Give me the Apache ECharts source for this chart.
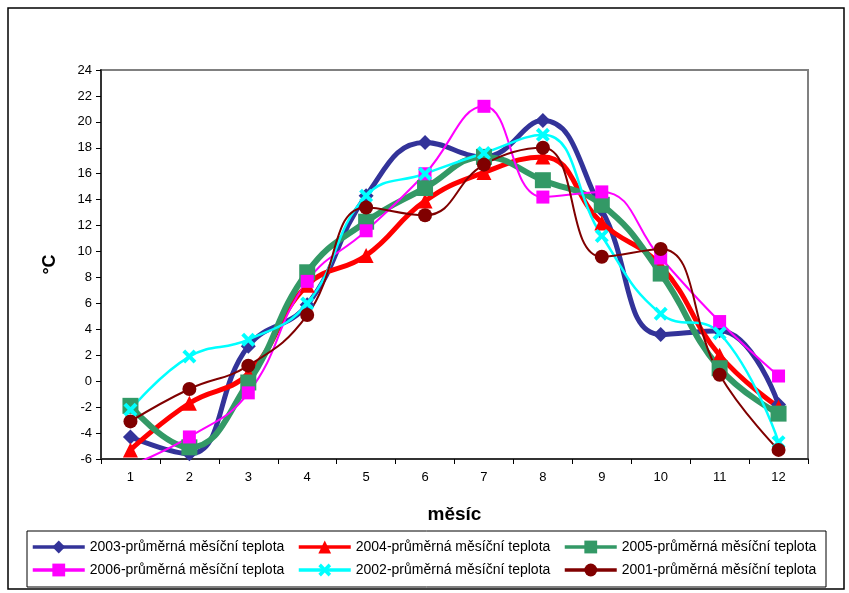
<!DOCTYPE html>
<html>
<head>
<meta charset="utf-8">
<script src="https://cdn.jsdelivr.net/npm/echarts@6/dist/echarts.min.js"></script>
<style>
  html, body { margin: 0; padding: 0; background: #fff; }
  #chart { width: 849px; height: 593px; }
</style>
</head>
<body>
<div id="chart"></div>
<script>
let chart = echarts.init(document.getElementById('chart'));

let months = ['1', '2', '3', '4', '5', '6', '7', '8', '9', '10', '11', '12'];
let t2003 = [-4.3, -5.6, 2.7, 5.9, 14.3, 18.4, 17.3, 20.1, 13.2, 3.6, 3.9, -1.8];
let t2004 = [-5.3, -1.7, 0.6, 7.4, 9.7, 13.9, 16.1, 17.3, 12.2, 8.9, 2.0, -2.0];
let t2005 = [-1.9, -5.1, -0.1, 8.4, 12.3, 14.9, 17.3, 15.5, 13.6, 8.3, 1.0, -2.5];
let t2006 = [-6.5, -4.3, -0.9, 7.7, 11.6, 16.0, 21.2, 14.2, 14.6, 9.5, 4.6, 0.4];
let t2002 = [-2.2, 1.9, 3.2, 6.0, 14.3, 16.0, 17.6, 19.0, 11.2, 5.2, 3.7, -4.7];
let t2001 = [-3.1, -0.6, 1.2, 5.1, 13.4, 12.8, 16.7, 18.0, 9.6, 10.2, 0.5, -5.3];

let names = [
    '2003-průměrná měsíční teplota',
    '2004-průměrná měsíční teplota',
    '2005-průměrná měsíční teplota',
    '2006-průměrná měsíční teplota',
    '2002-průměrná měsíční teplota',
    '2001-průměrná měsíční teplota'
];

let cross = 'path://M2,0 L5,3 L8,0 L10,2 L7,5 L10,8 L8,10 L5,7 L2,10 L0,8 L3,5 L0,2 Z';

function line(name, data, color, width, symbol, size) {
    return {
        name: name,
        type: 'line',
        data: data,
        smooth: 0.45,
        symbol: symbol,
        symbolSize: size,
        showAllSymbol: true,
        lineStyle: {color: color, width: width},
        itemStyle: {color: color, opacity: 1},
        emphasis: {disabled: true}
    };
}

let legendText = {fontFamily: 'Liberation Sans, Arial', fontSize: 14, color: '#000'};

function legendCol(left, items) {
    return {
        orient: 'vertical',
        left: left,
        top: 540,
        itemWidth: 52,
        itemHeight: 16,
        itemGap: 9,
        padding: 0,
        textStyle: legendText,
        selectedMode: false,
        lineStyle: {width: 3.5},
        data: items
    };
}

let option = {
    animation: false,
    backgroundColor: '#fff',
    textStyle: {fontFamily: 'Liberation Sans, Arial'},
    grid: {
        left: 101, top: 70, right: 41, bottom: 134,
        show: true, borderColor: '#808080', borderWidth: 2
    },
    legend: [
        legendCol(31, [names[0], names[3]]),
        legendCol(297, [names[1], names[4]]),
        legendCol(563, [names[2], names[5]])
    ],
    xAxis: {
        type: 'category',
        data: months,
        boundaryGap: true,
        name: 'měsíc',
        nameLocation: 'middle',
        nameGap: 46,
        nameTextStyle: {fontSize: 19, fontWeight: 'bold', color: '#000'},
        axisLine: {onZero: false, lineStyle: {color: '#333', width: 2}},
        axisTick: {show: true, length: 5, lineStyle: {color: '#000'}},
        axisLabel: {fontSize: 13, color: '#000', margin: 12},
        splitLine: {show: false}
    },
    yAxis: {
        type: 'value',
        min: -6,
        max: 24,
        interval: 2,
        name: '°C',
        nameLocation: 'middle',
        nameRotate: 90,
        nameGap: 42,
        nameTextStyle: {fontSize: 18, fontWeight: 'bold', color: '#000'},
        axisLine: {show: true, lineStyle: {color: '#333', width: 2}},
        axisTick: {show: true, length: 5, lineStyle: {color: '#000'}},
        axisLabel: {fontSize: 13, color: '#000', margin: 9},
        splitLine: {show: false}
    },
    graphic: [
        {type: 'rect', shape: {x: 8, y: 8, width: 836, height: 581}, style: {fill: 'none', stroke: '#000', lineWidth: 1.5}, silent: true},
        {type: 'rect', shape: {x: 27, y: 531, width: 799, height: 56}, style: {fill: 'none', stroke: '#000', lineWidth: 1}, silent: true}
    ],
    series: [
        line(names[0], t2003, '#333399', 5, 'diamond', 15),
        line(names[1], t2004, '#FF0000', 5, 'triangle', 15),
        line(names[2], t2005, '#339966', 6, 'rect', 16),
        line(names[3], t2006, '#FF00FF', 2, 'rect', 13),
        line(names[4], t2002, '#00FFFF', 2.5, cross, 14),
        line(names[5], t2001, '#800000', 2, 'circle', 14)
    ]
};

chart.setOption(option);
</script>
</body>
</html>
